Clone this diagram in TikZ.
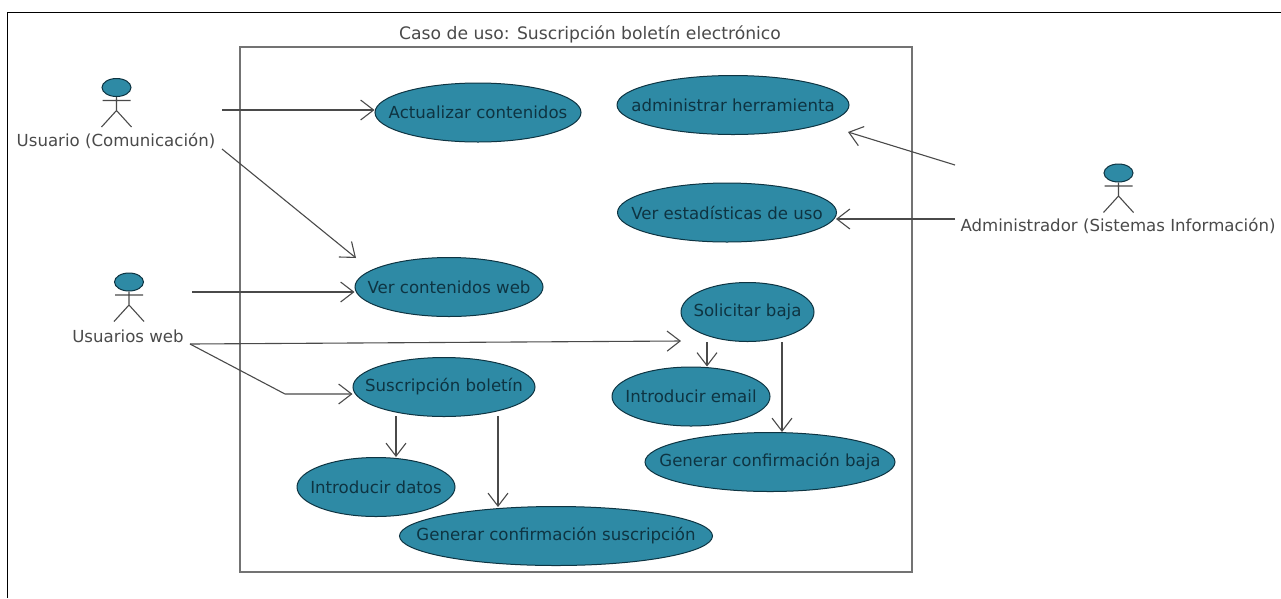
\documentclass[tikz,border=0pt]{standalone}
\usepackage{fontspec}
\setmainfont{DejaVu Sans}
\usetikzlibrary{arrows.meta,shapes.geometric}
\definecolor{teal}{HTML}{2E8AA5}
\definecolor{ink}{HTML}{4A4A4A}
\definecolor{uctext}{HTML}{0E3442}
\tikzset{
 uc/.style={ellipse,draw=uctext,line width=1pt,fill=teal,inner sep=0pt,text=uctext,font=\fontsize{16.6}{18}\selectfont},
 lbl/.style={inner sep=0pt,text=ink,font=\fontsize{16.6}{18}\selectfont},
 link/.style={draw=ink,line width=1.1pt,-{Straight Barb[length=13pt,width=20pt,line width=1.1pt]}},
 stick/.style={draw=ink,line width=1.1pt},
 head/.style={ellipse,draw=uctext,line width=1pt,fill=teal,minimum width=29pt,minimum height=18pt,inner sep=0pt},
 frameline/.style={draw=black,line width=1pt},
 sysbox/.style={draw=black!55,line width=1.5pt}
}
\newcommand{\ucnode}[6]{\node[uc,minimum width=#3pt,minimum height=#4pt] (#5) at (#1,#2) {\makebox[0pt]{#6}};}
\newcommand{\actor}[3]{%
 \node[head] (#3) at (#1,#2) {};
 \draw[stick] (#3.south) -- ++(0,13.5) coordinate (#3h) -- ++(-15,16.5) (#3h) -- ++(15,16.5) (#1-14,#2+13) -- (#1+14,#2+13);}
\begin{document}
\begin{tikzpicture}[x=1pt,y=-1pt]
\useasboundingbox (0,0) rectangle (1281,598);
\fill[white] (0,0) rectangle (1281,598);
\draw[frameline] (7.5,598) -- (7.5,12.5) -- (1281,12.5);
\draw[sysbox] (240,47) rectangle (912,572);
\node[lbl,font=\fontsize{17.2}{18}\selectfont] (title) at (590,34) {Caso de uso: Suscripción boletín electrónico};
\actor{116.5}{87.5}{a1}
\node[lbl] (l1) at (116,141) {Usuario (Comunicación)};
\actor{129}{282}{a2}
\node[lbl] (l2) at (128,336) {Usuarios web};
\actor{1118.5}{173}{a3}
\node[lbl] (l3) at (1118,226) {Administrador (Sistemas Información)};
\ucnode{478}{112.5}{206}{59}{u1}{Actualizar contenidos}
\ucnode{733}{105}{232}{59}{u2}{administrar herramienta}
\ucnode{727}{212.5}{219}{59}{u3}{Ver estadísticas de uso}
\ucnode{449}{287}{188}{59}{u4}{Ver contenidos web}
\ucnode{747.5}{312}{133}{59}{u5}{Solicitar baja}
\ucnode{444}{387}{182}{59}{u6}{Suscripción boletín}
\ucnode{691}{396.5}{158}{59}{u7}{Introducir email}
\ucnode{770}{462}{250}{59}{u8}{Generar confirmación baja}
\ucnode{376}{487}{158}{59}{u9}{Introducir datos}
\ucnode{556}{536}{313}{59}{u10}{Generar confirmación suscripción}
\coordinate (c1) at (222,110);
\coordinate (c2) at (222,149);
\coordinate (c3) at (192,292);
\coordinate (c4) at (190,344);
\coordinate (c5) at (955,165);
\coordinate (c6) at (955,219);
\coordinate (b1) at (285,394);
\coordinate (s1) at (707,342);
\coordinate (s2) at (782,342);
\coordinate (s3) at (396,416);
\coordinate (s4) at (498,416);
\coordinate (e2) at (356,258);
\coordinate (e5) at (681,341);
\coordinate (e7) at (848,132);
\draw[link] (c1) -- (u1.west |- c1);
\draw[link] (c2) -- (e2);
\draw[link] (c3) -- (u4.west |- c3);
\draw[link] (c4) -- (e5);
\draw[link] (c4) -- (b1) -- (u6.west |- b1);
\draw[link] (c5) -- (e7);
\draw[link] (c6) -- (836,219);
\draw[link] (s1) -- (s1 |- u7.north);
\draw[link] (s2) -- (s2 |- u8.north);
\draw[link] (s3) -- (s3 |- u9.north);
\draw[link] (s4) -- (498,507);
\end{tikzpicture}
\end{document}
